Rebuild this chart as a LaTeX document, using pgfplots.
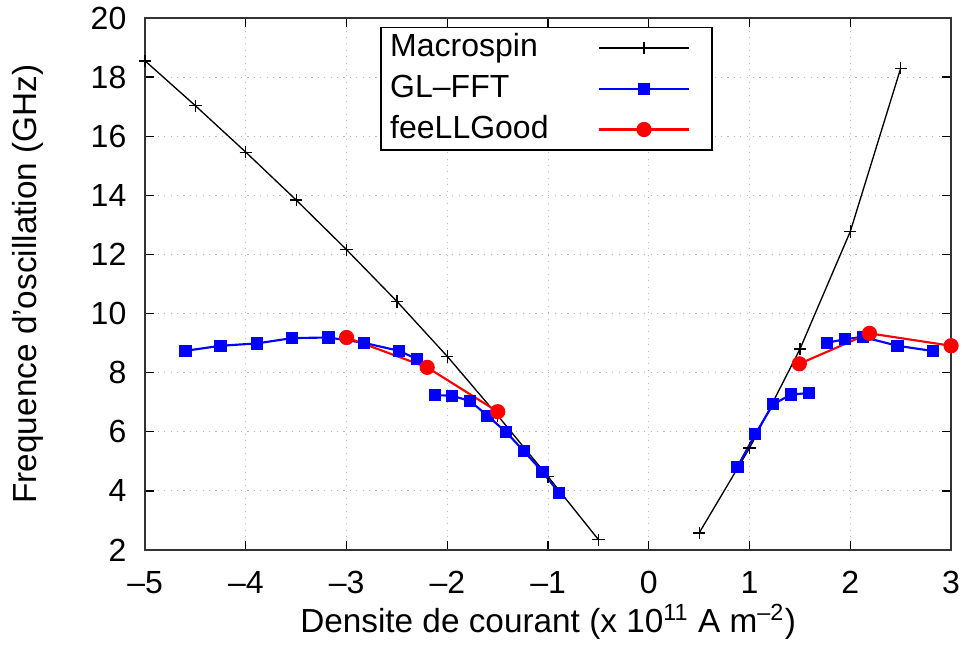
\documentclass[border=0pt]{standalone}
\usepackage{pgfplots}
\pgfplotsset{compat=1.18}
\usepackage{fontspec}
\setmainfont{Liberation Sans}

\begin{document}
\begin{tikzpicture}
% page size = 968x663 px at 0.375pt/px
\useasboundingbox (-54.4pt,-42.4pt) rectangle (308.6pt,206.25pt);
\begin{axis}[
  scale only axis,
  width=302.25pt, height=199.5pt,
  xmin=-5, xmax=3,
  ymin=2, ymax=20,
  xtick={-5,...,3},
  xticklabels={–5,–4,–3,–2,–1,0,1,2,3},
  ytick={2,4,...,20},
  /pgf/number format/assume math mode=true,
  tick align=inside,
  major tick length=3.4pt,
  tick style={black, line width=0.5pt},
  axis line style={line width=0.7pt, black!80},
  grid=major,
  grid style={gray!55, dotted, line width=0.4pt},
  tick label style={font=\fontsize{12}{14}\selectfont},
  xticklabel style={yshift=-4.5pt},
  yticklabel style={xshift=-3.5pt},
  unbounded coords=jump,
  xlabel={Densite de courant (x 10\textsuperscript{11} A m\textsuperscript{–2})},
  ylabel={Frequence d'oscillation (GHz)},
  every axis x label/.style={at={(axis description cs:0.5,-0.135)}, anchor=center,
    font=\fontsize{12.5}{15}\selectfont},
  every axis y label/.style={at={(axis description cs:-0.145,0.5)}, anchor=center,
    rotate=90, font=\fontsize{12.5}{15}\selectfont},
  legend plot pos=right,
  legend cell align=left,
  legend style={at={(axis description cs:0.2916,0.9836)}, anchor=north west,
    draw=black, line width=0.6pt, fill=white,
    font=\fontsize{12}{14}\selectfont,
    inner xsep=2pt, inner ysep=0pt, column sep=17pt, row sep=0pt,
    nodes={inner xsep=1.5pt, inner ysep=1.4pt, text height=9.5pt, text depth=3pt}},
  legend image code/.code={
    \draw[mark repeat=2, mark phase=2] plot coordinates {(0pt,0pt) (16.9pt,0pt) (33.8pt,0pt)};
    \path (40pt,0pt);
  },
]
% Macrospin
\addplot[black, line width=0.5pt, mark=+, mark size=2.3pt, mark options={line width=0.5pt}]
  coordinates {
    (-5,18.55) (-4.5,17.03) (-4,15.46) (-3.5,13.84) (-3,12.16)
    (-2.5,10.41) (-2,8.55) (-1.5,6.55) (-1,4.48) (-0.5,2.35)
    (0,nan)
    (0.5,2.58) (1,5.45) (1.5,8.8) (2,12.78) (2.5,18.3)
  };
\addlegendentry{Macrospin}
% GL-FFT
\addplot[blue, line width=0.8pt, mark=square*, mark size=1.9pt, mark options={fill=blue, draw=blue}]
  coordinates {
    (-4.60,8.74) (-4.25,8.91) (-3.89,8.99) (-3.54,9.17) (-3.18,9.19)
    (-2.83,9.01) (-2.48,8.74) (-2.30,8.46)
    (-2.2,nan)
    (-2.125,7.24) (-1.953,7.22) (-1.774,7.04) (-1.60,6.54) (-1.417,5.99)
    (-1.238,5.34) (-1.056,4.65) (-0.888,3.92)
    (0,nan)
    (0.879,4.81) (1.057,5.92) (1.233,6.93) (1.412,7.26) (1.587,7.31)
    (1.7,nan)
    (1.766,9.01) (1.945,9.13) (2.123,9.21) (2.467,8.91) (2.824,8.73)
  };
\addlegendentry{GL–FFT}
% feeLLGood
\addplot[red, line width=0.8pt, mark=*, mark size=2.45pt, mark options={fill=red, draw=red}]
  coordinates {
    (-3,9.19) (-2.2,8.18) (-1.5,6.68)
    (0,nan)
    (1.494,8.30) (2.19,9.33) (3,8.91)
  };
\addlegendentry{feeLLGood}
\end{axis}
\end{tikzpicture}
\end{document}
